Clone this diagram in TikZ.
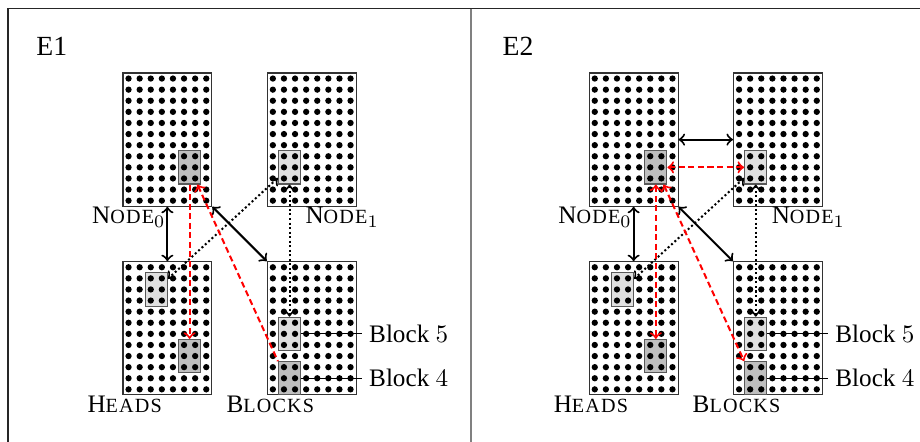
\documentclass[tikz,border=0pt]{standalone}
\usepackage{fontspec}
\setmainfont{Liberation Serif}
\newfontfamily\scfont[Scale=0.8,LetterSpace=6]{Liberation Serif}
\newcommand{\fsc}[2]{#1{\scfont #2}}
\def\cell{0.155cm}
\usetikzlibrary{arrows.meta}

\begin{document}
\begin{tikzpicture}[x=0.155cm,y=-0.155cm,>=to,
  gridbox/.style={draw=black!80,inner sep=0pt,minimum width=8*\cell,minimum height=12*\cell},
  darkbox/.style={draw=black!65,fill=black!25,inner sep=0pt,minimum width=2*\cell,minimum height=3*\cell},
  lightbox/.style={darkbox,fill=black!12},
  blackarrow/.style={thick,<->},
  dotarrow/.style={thick,densely dotted,<->},
  redarrow/.style={thick,red,dash pattern=on 2.4pt off 1.4pt},
  txt/.style={inner sep=0pt,anchor=base west}]
\useasboundingbox (-11.081,-6.577) rectangle (71.80,33.24);
\clip (-11.081,-6.577) rectangle (71.80,33.24);

% frame
\draw[black!85] (-10.36,36) |- (75,-5.79);
\draw[black!50] (31.35,-5.79) -- (31.35,36);

\foreach \p/\dx/\e in {a/0/E1,b/42/E2} {
  \node[txt,font=\fontsize{11}{13}\selectfont] (\p-title) at (\dx-7.84,-1.56) {\e};
  \node[gridbox] (\p-n0) at (\dx+4,6) {};
  \node[gridbox] (\p-n1) at (\dx+17,6) {};
  \node[gridbox] (\p-hd) at (\dx+4,23) {};
  \node[gridbox] (\p-bk) at (\dx+17,23) {};
  \node[darkbox] (\p-n0x) at (\dx+6,8.5) {};
  \node[lightbox] (\p-n1x) at (\dx+15,8.5) {};
  \node[lightbox] (\p-hx1) at (\dx+3,19.5) {};
  \node[darkbox] (\p-hx2) at (\dx+6,25.5) {};
  \node[lightbox] (\p-b5) at (\dx+15,23.5) {};
  \node[darkbox] (\p-b4) at (\dx+15,27.5) {};
  % dots
  \foreach \gx/\gy in {0/0,13/0,0/17,13/17}
    \foreach \i in {0,...,7}
      \foreach \j in {0,...,11}
        \fill (\dx+\gx+\i+0.5,\gy+\j+0.5) circle[radius=1.25pt];
  \node[txt] (\p-l0) at (\dx-2.82,13.6) {\fsc{N}{ODE}$_0$};
  \node[txt] (\p-l1) at (\dx+16.4,13.6) {\fsc{N}{ODE}$_1$};
  \node[txt] (\p-lh) at (\dx-3.24,30.57) {\fsc{H}{EADS}};
  \node[txt] (\p-lb) at (\dx+9.28,30.57) {\fsc{B}{LOCKS}};
  \node[anchor=west,inner sep=2.8pt] (\p-t5) at (\dx+21.5,23.5) {Block $5$};
  \node[anchor=west,inner sep=2.8pt] (\p-t4) at (\dx+21.5,27.5) {Block $4$};
  \draw (\p-b5) -- (\p-t5);
  \draw (\p-b4) -- (\p-t4);
  % common links
  \draw[blackarrow] (\p-n0.south) -- (\p-hd.north);
  \draw[blackarrow] (\p-n0.south east) -- (\p-bk.north west);
  \draw[dotarrow] (\p-n1x) -- (\p-hx1);
  \draw[dotarrow] (\p-n1x) -- (\p-b5);
}

% E1
\draw[redarrow,->] (a-n0x) -- (a-hx2);
\draw[redarrow,<-] (a-n0x) -- (a-b4.north west);

% E2
\draw[blackarrow] (b-n0) -- (b-n1);
\draw[redarrow,<->] (b-n0x) -- (b-n1x);
\draw[redarrow,<->] (b-n0x) -- (b-hx2);
\draw[redarrow,<->] (b-n0x) -- (b-b4.north west);
\end{tikzpicture}
\end{document}
